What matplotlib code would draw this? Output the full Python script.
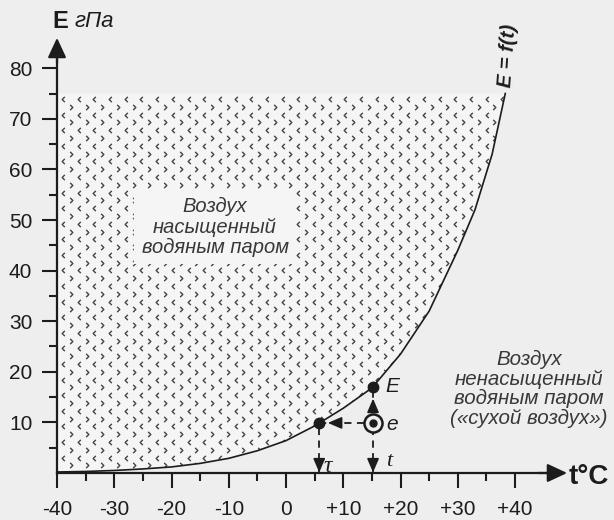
import matplotlib
matplotlib.use("Agg")
import matplotlib.pyplot as plt
from matplotlib.path import Path

# ---- data ----
t_curve = [-40, -35, -30, -25, -20, -15, -10, -5, 0, 5, 10, 15, 20, 25, 30, 33, 36, 38.3]
E_curve = [0.2, 0.3, 0.5, 0.8, 1.2, 1.9, 2.9, 4.4, 6.4, 9.3, 12.8, 16.8, 23.5, 32.0, 44.0, 52.0, 63.0, 75.0]
E_top = 75.0

t_air = 15.2        # air temperature t
E_air = 17.0        # saturation pressure E at t
e_air = 9.9         # actual vapour pressure e
t_dew = 5.8         # dew point tau

x_ticks = [-40, -30, -20, -10, 0, 10, 20, 30, 40]
x_labels = ["-40", "-30", "-20", "-10", "0", "+10", "+20", "+30", "+40"]
x_minor = [-35, -25, -15, -5, 5, 15, 25, 35]
y_ticks = [10, 20, 30, 40, 50, 60, 70, 80]
y_minor = [5, 15, 25, 35, 45, 55, 65, 75]

bg = "#eeeeee"
fill_bg = "#f5f5f5"
ink = "#1c1c1c"
txt = "#383838"
plt.rcParams["font.family"] = ["Liberation Sans", "DejaVu Sans"]

fig = plt.figure(figsize=(6.14, 5.2), dpi=100, facecolor=bg)
ax = fig.add_axes([0, 0, 1, 1])
ax.set_facecolor(bg)
ax.set_xlim(-49.96, 57.29)
ax.set_ylim(-9.29, 93.48)

# ---- saturated region (stippled) ----
poly_t = t_curve + [t_curve[0]]
poly_E = E_curve + [E_top]
region = ax.fill(poly_t, poly_E, facecolor=fill_bg, edgecolor="none", zorder=1)[0]

left_chev = Path([(0.5, 1), (-0.5, 0), (0.5, -1)], [Path.MOVETO, Path.LINETO, Path.LINETO])
right_chev = Path([(-0.5, 1), (0.5, 0), (-0.5, -1)], [Path.MOVETO, Path.LINETO, Path.LINETO])
dx, dy = 2.74, 1.54
for i in range(50):
    yy = 73.9 - i * dy
    if yy < 0:
        break
    off = 0 if i % 2 == 0 else dx / 2
    xs = [-38.95 + off + k * dx for k in range(40) if -38.95 + off + k * dx < 40]
    m = left_chev if i % 2 == 0 else right_chev
    ln, = ax.plot(xs, [yy] * len(xs), ls="none", marker=m, ms=3.8,
                  mfc="none", mec="#444444", mew=1.0, zorder=2)
    ln.set_clip_path(region)

# ---- curve E = f(t) ----
ax.plot(t_curve, E_curve, color=ink, lw=1.2, zorder=3)

# ---- axes ----
for s in ["top", "right"]:
    ax.spines[s].set_visible(False)
ax.spines["left"].set_position(("data", -40))
ax.spines["bottom"].set_position(("data", 0))
ax.spines["left"].set_bounds(0, 84)
ax.spines["bottom"].set_bounds(-40, 47)
for s in ["left", "bottom"]:
    ax.spines[s].set_linewidth(1.6)
    ax.spines[s].set_color(ink)
    ax.spines[s].set_zorder(4)

ax.set_xticks(x_ticks)
ax.set_xticklabels(x_labels)
ax.set_xticks(x_minor, minor=True)
ax.set_yticks(y_ticks)
ax.set_yticks(y_minor, minor=True)
ax.tick_params(which="major", direction="out", length=10.8, width=1.5, colors=ink, labelsize=15)
ax.tick_params(which="minor", direction="out", length=5.8, width=1.5, colors=ink)
ax.tick_params(axis="x", which="major", pad=9)
ax.tick_params(axis="y", which="major", pad=7)

head = dict(arrowstyle="-|>,head_length=0.75,head_width=0.35", color=ink, lw=1.6,
            mutation_scale=16, shrinkA=0, shrinkB=0)
ax.annotate("", xy=(49.1, 0), xytext=(44, 0), arrowprops=head, zorder=5)
ax.annotate("", xy=(-40, 86.0), xytext=(-40, 81), arrowprops=head, zorder=5)

ax.text(-38.0, 89.3, "E", fontsize=17, fontweight="bold", color=ink, ha="right", va="center")
ax.text(-37.0, 89.3, "гПа", fontsize=16, style="italic", color=ink, ha="left", va="center")
ax.text(49.4, -0.8, "t°C", fontsize=20, fontweight="bold", color=ink, ha="left", va="center")

ax.text(38.7, 82.4, "E = f(t)", fontsize=14.5, fontweight="bold", style="italic",
        color=ink, rotation=86, ha="center", va="center")

# ---- region labels ----
ax.text(-12.4, 48.6, "Воздух\nнасыщенный\nводяным паром", fontsize=14.5, style="italic",
        color=txt, ha="center", va="center", linespacing=1.1, zorder=6,
        bbox=dict(boxstyle="square,pad=0.35", facecolor=fill_bg, edgecolor="none"))
ax.text(42.4, 16.6, "Воздух\nненасыщенный\nводяным паром\n(«сухой воздух»)", fontsize=14.8,
        style="italic", color=txt, ha="center", va="center", linespacing=1.05, zorder=6)

# ---- t, e, E, tau construction ----
dash = dict(color=ink, lw=1.3, ls=(0, (4, 3)), zorder=5)
ax.plot([t_air, t_air], [e_air, E_air], **dash)
ax.plot([t_dew, t_air], [e_air, e_air], **dash)
ax.plot([t_dew, t_dew], [0, e_air], **dash)
ax.plot([t_air, t_air], [0, e_air], **dash)

small = dict(arrowstyle="-|>,head_length=0.7,head_width=0.3", color=ink, lw=1.2,
             mutation_scale=12, shrinkA=0, shrinkB=0)
ax.annotate("", xy=(t_air, 14.7), xytext=(t_air, 13.0), arrowprops=small, zorder=6)
ax.annotate("", xy=(t_dew + 1.5, e_air), xytext=(t_dew + 3.5, e_air), arrowprops=small, zorder=6)
ax.annotate("", xy=(t_dew, 0.1), xytext=(t_dew, 2.0), arrowprops=small, zorder=6)
ax.annotate("", xy=(t_air, 0.1), xytext=(t_air, 2.0), arrowprops=small, zorder=6)

ax.plot([t_air], [E_air], "o", ms=7.5, color=ink, zorder=7)
ax.plot([t_dew], [e_air], "o", ms=7.5, color=ink, zorder=7)
ax.plot([t_air], [e_air], "o", ms=13, mfc=bg, mec=ink, mew=1.8, zorder=7)
ax.plot([t_air], [e_air], "o", ms=5, color=ink, zorder=8)

ax.text(17.4, 17.0, "E", fontsize=15, style="italic", color=ink, ha="left", va="center")
ax.text(17.6, 9.6, "e", fontsize=15, style="italic", color=ink, ha="left", va="center")
ax.text(6.6, 1.3, "τ", fontsize=17, style="italic", family=["Liberation Serif", "DejaVu Serif"],
        color=ink, ha="left", va="center")
ax.text(17.4, 2.3, "t", fontsize=16, style="italic", family=["Liberation Serif", "DejaVu Serif"],
        color=ink, ha="left", va="center")

fig.savefig("out.png", dpi=100, facecolor=bg)
